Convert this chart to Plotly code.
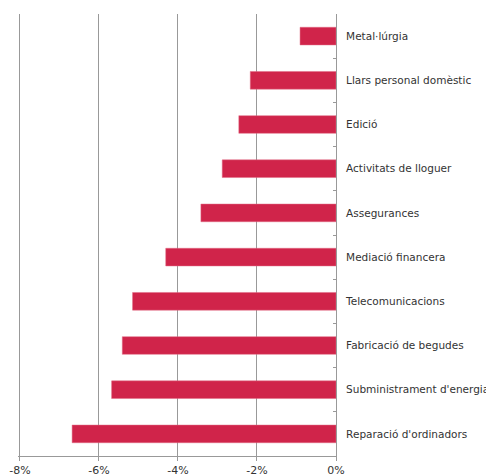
import plotly.graph_objects as go

categories = ["Metal·lúrgia", "Llars personal domèstic", "Edició", "Activitats de lloguer",
              "Assegurances", "Mediació financera", "Telecomunicacions",
              "Fabricació de begudes", "Subministrament d'energia", "Reparació d'ordinadors"]
values = [-0.91, -2.17, -2.46, -2.88, -3.42, -4.31, -5.15, -5.41, -5.68, -6.68]
tick_vals = [-8, -6, -4, -2, 0]
tick_text = ["-8%", "-6%", "-4%", "-2%", "0%"]

fig = go.Figure(go.Bar(
    x=values, y=categories, orientation="h",
    marker=dict(color="#d0244a", line=dict(color="#e06a84", width=0.5)),
    width=0.4,
))

fig.update_layout(
    width=494, height=476,
    margin=dict(l=10, r=166, t=6, b=28),
    paper_bgcolor="white", plot_bgcolor="white",
    showlegend=False,
    font=dict(family="DejaVu Sans", size=10, color="#333333"),
    xaxis=dict(range=[-8.05, 0], tickvals=tick_vals, ticktext=tick_text,
               showgrid=True, gridcolor="#999999", gridwidth=1,
               showline=True, linecolor="#999999", linewidth=1,
               ticks="outside", ticklen=4, tickcolor="#999999",
               zeroline=False, tickfont=dict(size=11), automargin=False),
    yaxis=dict(side="right", autorange="reversed", showgrid=False,
               showline=True, linecolor="#999999", linewidth=1,
               ticks="inside", ticklen=3, tickcolor="#999999",
               tickson="boundaries", ticklabelstandoff=7,
               tickfont=dict(size=10.5), automargin=False),
    bargap=0.6,
)

fig.write_html("out.html")
